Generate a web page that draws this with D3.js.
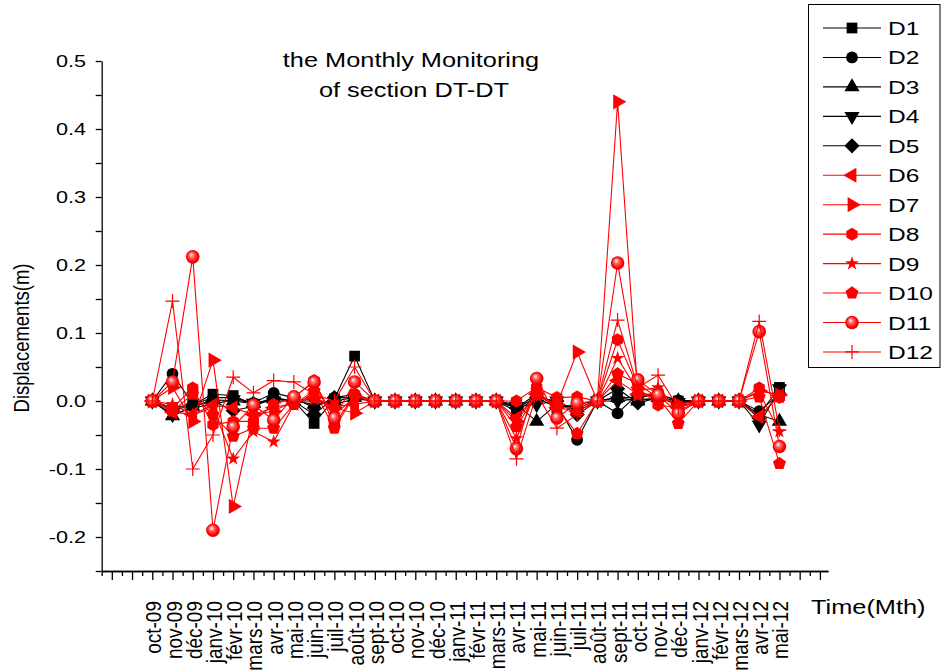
<html>
<head>
<title>Monthly Monitoring DT-DT</title>
<style>
  body { margin: 0; background: #fff; }
  svg text { font-family: "Liberation Sans", Arial, sans-serif; fill: #000; }
  .axis path, .axis line { stroke: #000; stroke-width: 1.3; }
</style>
</head>
<body>
<svg id="chart"></svg>
<script src="https://d3js.org/d3.v7.min.js"></script>
<script>
// months on the x axis
var months = ["oct-09","nov-09","déc-09","janv-10","févr-10","mars-10","avr-10","mai-10","juin-10","juil-10","août-10",
  "sept-10","oct-10","nov-10","déc-10","janv-11","févr-11","mars-11","avr-11","mai-11","juin-11","juil-11","août-11",
  "sept-11","oct-11","nov-11","déc-11","janv-12","févr-12","mars-12","avr-12","mai-12"];

var seriesNames = ["D1","D2","D3","D4","D5","D6","D7","D8","D9","D10","D11","D12"];

// displacements (m), one value per month
var D1  = [0,-0.010,-0.005,0.010,0.008,-0.005,0.005,0.000,-0.033,0.003,0.066,0,0,0,0,0,0,0,-0.015,0.005,-0.010,-0.005,0,0.005,0.005,0.010,0.000,0,0,0,-0.020,0.020];
var D2  = [0,0.040,-0.005,0.005,0.005,-0.003,0.012,0.005,-0.010,0.005,0.010,0,0,0,0,0,0,0,-0.010,0.010,-0.005,-0.057,0,-0.018,0.010,0.010,0.001,0,0,0,-0.015,0.010];
var D3  = [0,-0.022,-0.008,0.002,0.000,-0.004,0.003,0.000,-0.005,0.000,0.005,0,0,0,0,0,0,0,-0.005,-0.030,-0.005,-0.010,0,0.005,0.000,0.005,0.000,0,0,0,-0.020,-0.030];
var D4  = [0,-0.020,-0.010,-0.005,0.002,-0.003,0.000,0.000,0.000,-0.005,0.003,0,0,0,0,0,0,0,-0.008,-0.005,0.000,-0.015,0,0.000,0.003,0.003,-0.002,0,0,0,-0.035,0.018];
var D5  = [0,-0.012,-0.008,0.000,-0.014,-0.008,0.004,0.000,-0.020,0.005,0.005,0,0,0,0,0,0,0,-0.010,0.005,0.000,-0.020,0,0.018,-0.003,0.005,-0.005,0,0,0,-0.025,0.010];
var D6  = [0,-0.016,-0.020,-0.006,-0.010,-0.020,-0.010,-0.003,0.005,-0.008,-0.005,0,0,0,0,0,0,0,-0.025,0.010,-0.010,-0.015,0,0.030,0.010,0.010,-0.010,0,0,0,-0.023,0.008];
var D7  = [0,0.020,-0.030,0.060,-0.155,-0.020,-0.015,0.000,0.005,-0.010,-0.018,0,0,0,0,0,0,0,-0.030,0.010,-0.005,0.072,0,0.440,0.010,0.005,-0.005,0,0,0,0.015,0.009];
var D8  = [0,-0.010,0.019,-0.035,-0.030,-0.030,-0.005,0.005,0.030,-0.035,0.010,0,0,0,0,0,0,0,0.000,0.020,0.005,0.006,0,0.090,0.020,-0.006,-0.010,0,0,0,0.019,0.005];
var D9  = [0,-0.005,-0.020,-0.010,-0.085,-0.045,-0.060,-0.005,0.010,-0.020,0.005,0,0,0,0,0,0,0,-0.055,0.015,-0.010,-0.010,0,0.063,0.015,0.020,-0.015,0,0,0,0.013,-0.045];
var D10 = [0,-0.015,0.010,-0.020,-0.052,-0.040,-0.040,-0.005,0.015,-0.040,0.008,0,0,0,0,0,0,0,-0.038,0.010,-0.010,-0.048,0,0.040,0.025,0.005,-0.033,0,0,0,0.006,-0.092];
var D11 = [0,0.028,0.212,-0.190,-0.038,-0.006,-0.028,0.006,0.028,-0.025,0.028,0,0,0,0,0,0,0,-0.070,0.033,-0.025,-0.003,0,0.203,0.031,0.009,-0.018,0,0,0,0.102,-0.067];
var D12 = [0,0.147,-0.100,-0.050,0.035,0.012,0.030,0.028,0.010,0.000,0.050,0,0,0,0,0,0,0,-0.085,0.010,-0.040,-0.020,0,0.119,0.020,0.038,-0.010,0,0,0,0.117,-0.043];

var yTickValues = [-0.2,-0.1,0.0,0.1,0.2,0.3,0.4,0.5];
var yTickLabels = ["-0.2","-0.1","0.0","0.1","0.2","0.3","0.4","0.5"];

var allSeries = [D1,D2,D3,D4,D5,D6,D7,D8,D9,D10,D11,D12];
var colors = ["#000","#000","#000","#000","#000","red","red","red","red","red","red","red"];

var W = 941, H = 671;
var svg = d3.select('#chart').attr('width', W).attr('height', H);

var x = d3.scaleLinear().domain([-2.5, 33.4]).range([101.7, 828]);
var y = d3.scaleLinear().domain([-0.25, 0.5]).range([571, 61]);

// custom marker shapes
function polygon(n, rot) {
  return {
    draw: function(ctx, size) {
      var r = Math.sqrt(size / (n * 0.5 * Math.sin(2 * Math.PI / n)));
      for (var i = 0; i < n; i++) {
        var a = rot + i * 2 * Math.PI / n;
        var px = r * Math.sin(a), py = -r * Math.cos(a);
        if (i === 0) ctx.moveTo(px, py); else ctx.lineTo(px, py);
      }
      ctx.closePath();
    }
  };
}
var hexagon = polygon(6, 0), pentagon = polygon(5, 0);
var plusPath = "M-7,0H7M0,-7V7";

function markerPath(i) {
  switch (i) {
    case 0: return { d: d3.symbol(d3.symbolSquare, 115)() };
    case 1: return { d: d3.symbol(d3.symbolCircle, 110)() };
    case 2: return { d: d3.symbol(d3.symbolTriangle, 100)() };
    case 3: return { d: d3.symbol(d3.symbolTriangle, 100)(), rot: 180 };
    case 4: return { d: d3.symbol(d3.symbolSquare, 115)(), rot: 45 };
    case 5: return { d: d3.symbol(d3.symbolTriangle, 100)(), rot: -90 };
    case 6: return { d: d3.symbol(d3.symbolTriangle, 100)(), rot: 90 };
    case 7: return { d: d3.symbol(hexagon, 110)() };
    case 8: return { d: d3.symbol(d3.symbolStar, 60)() };
    case 9: return { d: d3.symbol(pentagon, 110)() };
    case 10: return { sphere: true };
    case 11: return { d: plusPath, plus: true };
  }
}

var defs = svg.append('defs');
var grad = defs.append('radialGradient').attr('id', 'sphere')
  .attr('cx', '0.5').attr('cy', '0.5').attr('r', '0.55').attr('fx', '0.38').attr('fy', '0.32');
grad.append('stop').attr('offset', '0').attr('stop-color', '#fff');
grad.append('stop').attr('offset', '0.35').attr('stop-color', '#ff6060');
grad.append('stop').attr('offset', '0.75').attr('stop-color', '#f00');
grad.append('stop').attr('offset', '1').attr('stop-color', '#d00000');

function drawMarker(g, i, cx, cy) {
  var m = markerPath(i);
  if (m.sphere) {
    g.append('circle').attr('cx', cx).attr('cy', cy).attr('r', 6.8).attr('fill', 'url(#sphere)');
    return;
  }
  var p = g.append('path').attr('d', m.d)
    .attr('transform', 'translate(' + cx + ',' + cy + ')' + (m.rot ? ' rotate(' + m.rot + ')' : ''));
  if (m.plus) p.attr('fill', 'none').attr('stroke', colors[i]).attr('stroke-width', 1.2);
  else p.attr('fill', colors[i]);
}

// axes
var yMinor = d3.range(-5, 11).map(function(k) { return k * 0.05; });
svg.append('g').attr('class', 'axis')
  .attr('transform', 'translate(101.7,0)')
  .call(d3.axisLeft(y).tickValues(yMinor).tickSize(6).tickSizeOuter(0).tickFormat(''));

var xMajor = d3.range(-2, 34);
var xMinor = d3.range(-2.5, 33.5, 1);
svg.append('g').attr('class', 'axis')
  .attr('transform', 'translate(0,571)')
  .call(d3.axisBottom(x).tickValues(xMinor).tickSize(5).tickSizeOuter(0).tickFormat(''));
svg.append('g').attr('class', 'axis')
  .attr('transform', 'translate(0,571)')
  .call(d3.axisBottom(x).tickValues(xMajor).tickSize(9).tickSizeOuter(0).tickFormat(''));

// y tick labels
svg.append('g').selectAll('text').data(yTickValues).enter().append('text')
  .attr('transform', function(d) { return 'translate(86,' + (y(d) + 6) + ') scale(1.27,1)'; })
  .attr('text-anchor', 'end')
  .style('font-size', '17px')
  .text(function(d, i) { return yTickLabels[i]; });

// x tick labels (rotated)
svg.append('g').selectAll('text').data(months).enter().append('text')
  .attr('transform', function(d, i) { return 'translate(' + (x(i) + 9) + ',601) rotate(-90) scale(1,1.12)'; })
  .attr('text-anchor', 'end')
  .style('font-size', '19px')
  .text(function(d) { return d; });

// series
var line = d3.line().x(function(d, i) { return x(i); }).y(function(d) { return y(d); });
allSeries.forEach(function(vals, i) {
  var g = svg.append('g');
  g.append('path').attr('d', line(vals)).attr('fill', 'none')
    .attr('stroke', colors[i]).attr('stroke-width', 1.1);
  vals.forEach(function(v, k) { drawMarker(g, i, x(k), y(v)); });
});

// titles
svg.append('text').attr('transform', 'translate(411,67) scale(1.3,1)')
  .attr('text-anchor', 'middle').style('font-size', '19.5px').text('the Monthly Monitoring');
svg.append('text').attr('transform', 'translate(414,97) scale(1.3,1)')
  .attr('text-anchor', 'middle').style('font-size', '19.5px').text('of section DT-DT');
svg.append('text').attr('transform', 'translate(29,338) rotate(-90) scale(1,1.15)')
  .attr('text-anchor', 'middle').style('font-size', '18.5px').text('Displacements(m)');
svg.append('text').attr('transform', 'translate(811,614) scale(1.3,1)')
  .style('font-size', '19.5px').text('Time(Mth)');

// legend
var legend = svg.append('g');
legend.append('rect').attr('x', 808.5).attr('y', 4.5).attr('width', 131.5).attr('height', 363)
  .attr('fill', '#fff').attr('stroke', '#000').attr('stroke-width', 1);
seriesNames.forEach(function(name, i) {
  var ly = 28 + i * 29.45;
  legend.append('line').attr('x1', 823).attr('x2', 881).attr('y1', ly).attr('y2', ly)
    .attr('stroke', colors[i]).attr('stroke-width', 1.1);
  drawMarker(legend, i, 852, ly);
  legend.append('text').attr('transform', 'translate(888,' + (ly + 7) + ') scale(1.29,1)')
    .style('font-size', '19px').text(name);
});
</script>
</body>
</html>
